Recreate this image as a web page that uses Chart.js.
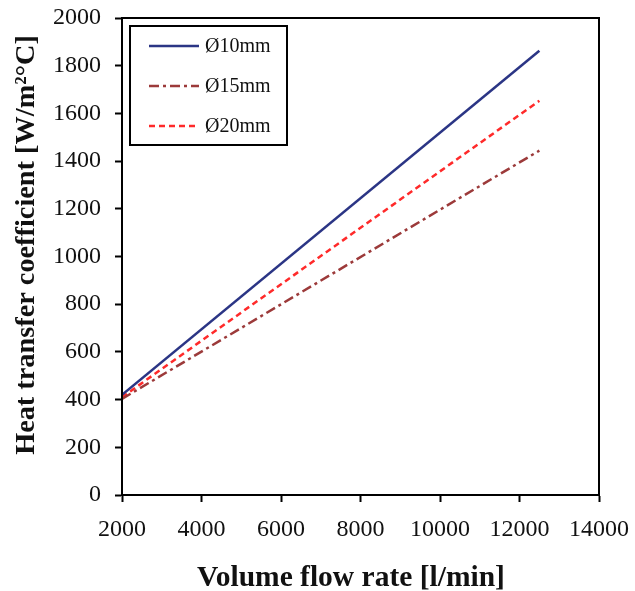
<!DOCTYPE html>
<html>
<head>
<meta charset="utf-8">
<script src="https://cdn.jsdelivr.net/npm/chart.js@4.4.1/dist/chart.umd.min.js"></script>
<style>
  html, body { margin: 0; padding: 0; background: #fff; }
  #wrap { width: 635px; height: 591px; }
</style>
</head>
<body>
<div id="wrap"><canvas id="htc"></canvas></div>
<script>
// data
var flowRate = [2000, 12500];
var d10 = [420, 1863];
var d15 = [403, 1444];
var d20 = [410, 1653];
var seriesNames = ['Ø10mm', 'Ø15mm', 'Ø20mm'];
var xTitle = 'Volume flow rate [l/min]';
var yTitle = 'Heat transfer coefficient [W/m²°C]';

var serif = "'Liberation Serif', 'DejaVu Serif', serif";

function pts(ys) {
    return flowRate.map(function (x, i) { return { x: x, y: ys[i] }; });
}

// full box around the plot, legend box inside it, axis titles
var framePlugin = {
    id: 'frame',
    afterDraw: function (chart) {
        var ctx = chart.ctx, a = chart.chartArea;
        ctx.save();
        ctx.strokeStyle = '#000';
        ctx.lineWidth = 2;
        ctx.strokeRect(a.left, a.top, a.right - a.left, a.bottom - a.top);

        // legend
        var bx = a.left + 8, by = a.top + 8, bw = 157, bh = 119;
        ctx.strokeRect(bx, by, bw, bh);
        ctx.font = '20px ' + serif;
        ctx.textBaseline = 'middle';
        ctx.fillStyle = '#111';
        chart.data.datasets.forEach(function (ds, i) {
            var y = by + 20 + i * 40;
            ctx.beginPath();
            ctx.strokeStyle = ds.borderColor;
            ctx.lineWidth = ds.borderWidth;
            ctx.setLineDash(ds.borderDash || []);
            ctx.moveTo(bx + 19, y);
            ctx.lineTo(bx + 69, y);
            ctx.stroke();
            ctx.setLineDash([]);
            ctx.fillText(ds.label, bx + 75, y + 1);
        });

        // axis titles
        ctx.textAlign = 'center';
        ctx.font = 'bold 29.5px ' + serif;
        ctx.fillText(xTitle, 351, 578);
        ctx.translate(27, 245);
        ctx.rotate(-Math.PI / 2);
        ctx.font = 'bold 28.3px ' + serif;
        ctx.fillText(yTitle, 0, 0);
        ctx.restore();
    }
};

function plain(v) { return String(v); }

var ctx = document.getElementById('htc').getContext('2d');
var chart = new Chart(ctx, {
    type: 'line',
    data: {
        datasets: [{
            label: seriesNames[0],
            data: pts(d10),
            borderColor: '#2b3585',
            borderWidth: 2.5,
            pointRadius: 0
        }, {
            label: seriesNames[1],
            data: pts(d15),
            borderColor: '#9c3a3a',
            borderWidth: 2.5,
            borderDash: [10, 4, 3, 4],
            pointRadius: 0
        }, {
            label: seriesNames[2],
            data: pts(d20),
            borderColor: '#ff2a2a',
            borderWidth: 2.5,
            borderDash: [6, 4],
            pointRadius: 0
        }]
    },
    options: {
        responsive: true,
        maintainAspectRatio: false,
        animation: false,
        layout: { padding: { top: 18, right: 36, left: 0, bottom: 0 } },
        plugins: {
            legend: { display: false },
            tooltip: { enabled: false }
        },
        scales: {
            x: {
                type: 'linear',
                min: 2000,
                max: 14000,
                afterFit: function (s) {
                    s.height = 96;
                    s.paddingLeft = 0;
                    s.paddingRight = 0;
                },
                ticks: {
                    stepSize: 2000,
                    callback: plain,
                    color: '#111',
                    padding: 13,
                    maxRotation: 0,
                    font: { family: serif, size: 24 }
                },
                grid: {
                    drawOnChartArea: false,
                    tickLength: 7,
                    tickWidth: 2,
                    tickColor: '#000'
                },
                border: { color: '#000', width: 2 }
            },
            y: {
                min: 0,
                max: 2000,
                afterFit: function (s) {
                    s.width = 122;
                    s.paddingTop = 0;
                    s.paddingBottom = 0;
                },
                ticks: {
                    stepSize: 200,
                    callback: plain,
                    color: '#111',
                    padding: 14,
                    font: { family: serif, size: 24 }
                },
                grid: {
                    drawOnChartArea: false,
                    tickLength: 7,
                    tickWidth: 2,
                    tickColor: '#000'
                },
                border: { color: '#000', width: 2 }
            }
        }
    },
    plugins: [framePlugin]
});
</script>
</body>
</html>
